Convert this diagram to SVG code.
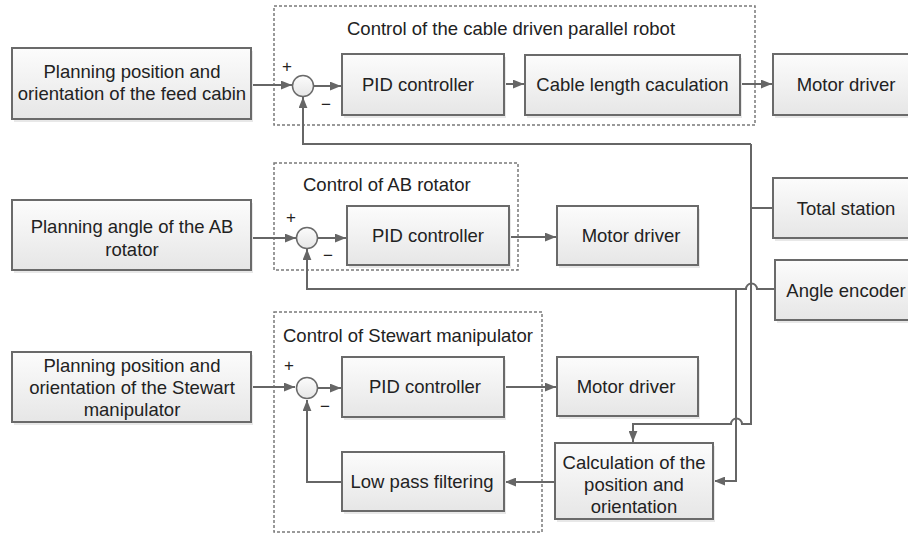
<svg xmlns="http://www.w3.org/2000/svg" width="908" height="534" viewBox="0 0 908 534">
<defs>
<linearGradient id="g" x1="0" y1="0" x2="0" y2="1">
<stop offset="0" stop-color="#fcfcfc"/>
<stop offset="1" stop-color="#e6e6e6"/>
</linearGradient>
<marker id="ar" viewBox="0 0 10 8" refX="10" refY="4" markerWidth="11" markerHeight="9" markerUnits="userSpaceOnUse" orient="auto">
<path d="M0,0 L10,4 L0,8 z" fill="#666"/>
</marker>
</defs>
<style>
.box{fill:url(#g);stroke:#6a6a6a;stroke-width:2}
.sh{fill:#e8e8e8;stroke:none}
.grp{fill:none;stroke:#7a7a7a;stroke-width:1.5;stroke-dasharray:3 2}
.sum{fill:url(#g);stroke:#6a6a6a;stroke-width:1.5}
.c{fill:none;stroke:#666;stroke-width:2}
.a{marker-end:url(#ar)}
text{font-family:"Liberation Sans",Arial,sans-serif;font-size:18.5px;fill:#222}
.m{text-anchor:middle}
.sg{font-size:17px;text-anchor:middle}
</style>
<rect width="908" height="534" fill="#fff"/>

<g id="group-cable">
<rect class="grp" x="274" y="6" width="481" height="119"/>
<text x="347" y="35">Control of the cable driven parallel robot</text>
</g>
<g id="group-ab">
<rect class="grp" x="274" y="163" width="244" height="107"/>
<text x="303" y="191">Control of AB rotator</text>
</g>
<g id="group-stewart">
<rect class="grp" x="274" y="312" width="268" height="220"/>
<text x="283" y="342">Control of Stewart manipulator</text>
</g>

<g id="connectors">
<path class="c a" d="M251,85 H292"/>
<path class="c a" d="M314,86 H341"/>
<path class="c a" d="M504,84 H524"/>
<path class="c a" d="M740,84 H772"/>
<path class="c" d="M773,208 H751"/>
<path class="c a" d="M751,144 H303 V97"/>
<path class="c a" d="M751,144 V424 H742 A5.5,5.5 0 0 0 731,424 H633 V442"/>
<path class="c a" d="M775,289 H757 A5.5,5.5 0 0 0 746,289 H307 V249"/>
<path class="c a" d="M736,289 V481 H714"/>
<path class="c a" d="M251,238 H296"/>
<path class="c a" d="M318,238 H346"/>
<path class="c a" d="M509,237 H556"/>
<path class="c a" d="M251,387 H295"/>
<path class="c a" d="M318,388 H341"/>
<path class="c a" d="M504,387 H556"/>
<path class="c a" d="M555,482 H505"/>
<path class="c a" d="M342,482 H307 V400"/>
</g>

<g id="sum1">
<circle class="sum" cx="303" cy="86" r="10.5"/>
<text class="sg" x="287" y="72">+</text>
<text class="sg" x="326" y="110">−</text>
</g>
<g id="sum2">
<circle class="sum" cx="307" cy="238" r="10.5"/>
<text class="sg" x="291" y="223">+</text>
<text class="sg" x="328" y="261">−</text>
</g>
<g id="sum3">
<circle class="sum" cx="307" cy="388" r="10.5"/>
<text class="sg" x="289" y="371">+</text>
<text class="sg" x="325" y="412">−</text>
</g>

<g id="plan-feed">
<rect class="sh" x="14" y="51" width="239" height="71"/>
<rect class="box" x="12" y="48" width="239" height="71"/>
<text class="m" x="132" y="78">Planning position and</text>
<text class="m" x="132" y="100">orientation of the feed cabin</text>
</g>
<g id="plan-ab">
<rect class="sh" x="14" y="203" width="239" height="70"/>
<rect class="box" x="12" y="200" width="239" height="70"/>
<text class="m" x="132" y="233">Planning angle of the AB</text>
<text class="m" x="132" y="256">rotator</text>
</g>
<g id="plan-stewart">
<rect class="sh" x="14" y="355" width="239" height="70"/>
<rect class="box" x="12" y="352" width="239" height="70"/>
<text class="m" x="132" y="372">Planning position and</text>
<text class="m" x="132" y="394">orientation of the Stewart</text>
<text class="m" x="132" y="416">manipulator</text>
</g>
<g id="pid1">
<rect class="sh" x="344" y="57" width="162" height="61"/>
<rect class="box" x="342" y="54" width="162" height="61"/>
<text class="m" x="418" y="91">PID controller</text>
</g>
<g id="cable">
<rect class="sh" x="527" y="58" width="215" height="60"/>
<rect class="box" x="525" y="55" width="215" height="60"/>
<text class="m" x="632.5" y="91">Cable length caculation</text>
</g>
<g id="motor1">
<rect class="sh" x="775" y="57" width="140" height="61"/>
<rect class="box" x="773" y="54" width="140" height="61"/>
<text class="m" x="846" y="91">Motor driver</text>
</g>
<g id="total-station">
<rect class="sh" x="775" y="181" width="140" height="60"/>
<rect class="box" x="773" y="178" width="140" height="60"/>
<text class="m" x="846" y="215">Total station</text>
</g>
<g id="angle-encoder">
<rect class="sh" x="777" y="263" width="140" height="60"/>
<rect class="box" x="775" y="260" width="140" height="60"/>
<text class="m" x="846" y="297">Angle encoder</text>
</g>
<g id="pid2">
<rect class="sh" x="349" y="209" width="162" height="59"/>
<rect class="box" x="347" y="206" width="162" height="59"/>
<text class="m" x="428" y="242">PID controller</text>
</g>
<g id="motor2">
<rect class="sh" x="559" y="209" width="141" height="59"/>
<rect class="box" x="557" y="206" width="141" height="59"/>
<text class="m" x="631" y="242">Motor driver</text>
</g>
<g id="pid3">
<rect class="sh" x="344" y="360" width="162" height="60"/>
<rect class="box" x="342" y="357" width="162" height="60"/>
<text class="m" x="425" y="393">PID controller</text>
</g>
<g id="motor3">
<rect class="sh" x="559" y="360" width="141" height="59"/>
<rect class="box" x="557" y="357" width="141" height="59"/>
<text class="m" x="626" y="393">Motor driver</text>
</g>
<g id="lowpass">
<rect class="sh" x="344" y="455" width="162" height="59"/>
<rect class="box" x="342" y="452" width="162" height="59"/>
<text class="m" x="422" y="488">Low pass filtering</text>
</g>
<g id="calculation">
<rect class="sh" x="557" y="446" width="158" height="76"/>
<rect class="box" x="555" y="443" width="158" height="76"/>
<text class="m" x="634" y="469">Calculation of the</text>
<text class="m" x="634" y="491">position and</text>
<text class="m" x="634" y="513">orientation</text>
</g>
</svg>
